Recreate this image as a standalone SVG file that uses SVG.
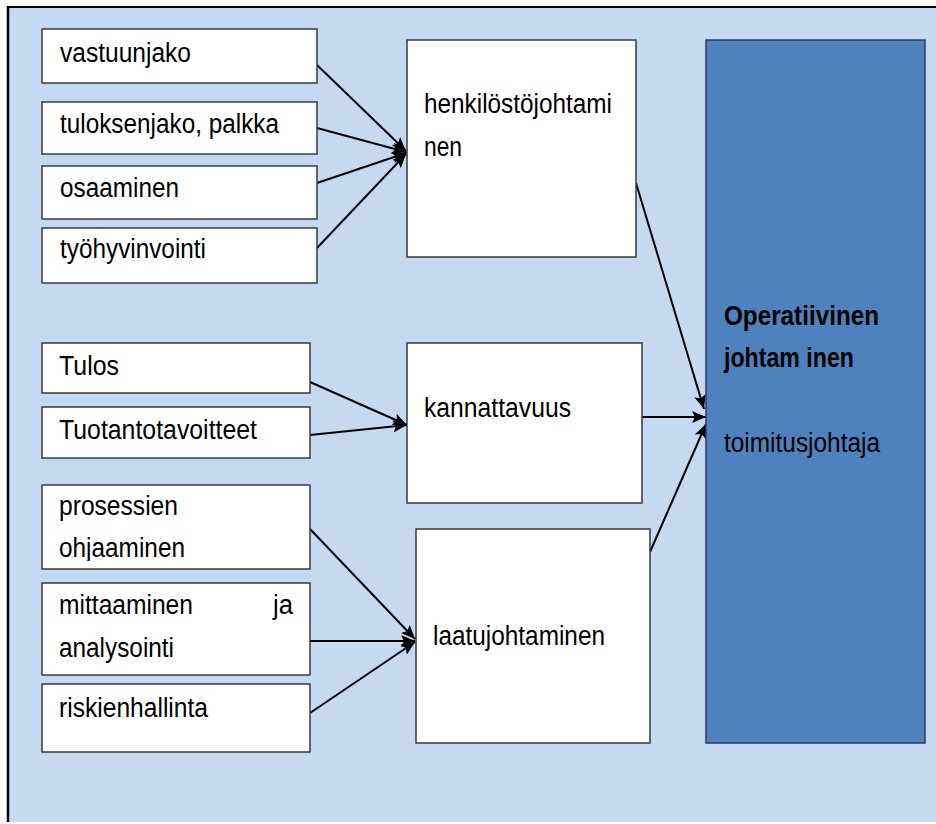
<svg xmlns="http://www.w3.org/2000/svg" width="936" height="824" viewBox="0 0 936 824">
<style>
.box{fill:#ffffff;stroke:#3a3a3a;stroke-width:1.5}
.main{fill:#4f81bd;stroke:#24406a;stroke-width:1.5}
.t{font-family:"Liberation Sans",Arial,sans-serif;font-size:27px;fill:#000}
.b{font-weight:bold}
.c{stroke:#000;stroke-width:2;fill:none;marker-end:url(#ah)}
</style>
<defs>
<marker id="ah" viewBox="0 0 14 12" refX="14" refY="6" markerWidth="14" markerHeight="12" markerUnits="userSpaceOnUse" orient="auto">
<path d="M0,0 L14,6 L0,12 L3,6 z" fill="#000"/>
</marker>
<clipPath id="clipOh"><rect x="42" y="485" width="268" height="76"/></clipPath>
</defs>
<rect x="0" y="0" width="936" height="824" fill="#ffffff"/>
<rect x="8" y="7" width="928" height="815" fill="#c6d9f0"/>
<line x1="8" y1="7" x2="936" y2="7" stroke="#000" stroke-width="2"/>
<line x1="8" y1="6" x2="8" y2="822" stroke="#000" stroke-width="2.5"/>

<g id="connectors">
<line class="c" x1="317" y1="65" x2="406" y2="151"/>
<line class="c" x1="317" y1="128" x2="406" y2="152"/>
<line class="c" x1="317" y1="183" x2="406" y2="153"/>
<line class="c" x1="317" y1="248" x2="406" y2="154"/>
<line class="c" x1="310" y1="382" x2="407" y2="425"/>
<line class="c" x1="310" y1="435" x2="407" y2="425"/>
<line class="c" x1="310" y1="529" x2="415" y2="639"/>
<line class="c" x1="310" y1="641" x2="415" y2="641"/>
<line class="c" x1="310" y1="713" x2="415" y2="642"/>
<line class="c" x1="636" y1="183" x2="704" y2="409"/>
<line class="c" x1="642" y1="417" x2="706" y2="417"/>
<line class="c" x1="650" y1="552" x2="706" y2="424"/>
</g>

<g id="vastuunjako"><rect class="box" x="42" y="29" width="275" height="54"/><text class="t" x="60" y="62" textLength="131" lengthAdjust="spacingAndGlyphs">vastuunjako</text></g>
<g id="tuloksenjako"><rect class="box" x="42" y="102" width="275" height="52"/><text class="t" x="60" y="133" textLength="219" lengthAdjust="spacingAndGlyphs">tuloksenjako, palkka</text></g>
<g id="osaaminen"><rect class="box" x="42" y="166" width="275" height="53"/><text class="t" x="60" y="197" textLength="119" lengthAdjust="spacingAndGlyphs">osaaminen</text></g>
<g id="tyohyvinvointi"><rect class="box" x="42" y="228" width="275" height="55"/><text class="t" x="60" y="258" textLength="146" lengthAdjust="spacingAndGlyphs">työhyvinvointi</text></g>

<g id="tulos"><rect class="box" x="42" y="343" width="268" height="50"/><text class="t" x="59" y="375" textLength="60" lengthAdjust="spacingAndGlyphs">Tulos</text></g>
<g id="tuotantotavoitteet"><rect class="box" x="42" y="407" width="268" height="51"/><text class="t" x="59" y="439" textLength="198" lengthAdjust="spacingAndGlyphs">Tuotantotavoitteet</text></g>
<g id="prosessien"><rect class="box" x="42" y="485" width="268" height="84"/><text class="t" x="59" y="515" textLength="119" lengthAdjust="spacingAndGlyphs">prosessien</text><text class="t" x="59" y="557" textLength="126" lengthAdjust="spacingAndGlyphs" clip-path="url(#clipOh)">ohjaaminen</text></g>
<g id="mittaaminen"><rect class="box" x="42" y="583" width="268" height="92"/><text class="t" x="59" y="614" textLength="134" lengthAdjust="spacingAndGlyphs">mittaaminen</text><text class="t" x="273" y="614" textLength="20" lengthAdjust="spacingAndGlyphs">ja</text><text class="t" x="59" y="657" textLength="115" lengthAdjust="spacingAndGlyphs">analysointi</text></g>
<g id="riskienhallinta"><rect class="box" x="42" y="684" width="268" height="68"/><text class="t" x="59" y="717" textLength="149" lengthAdjust="spacingAndGlyphs">riskienhallinta</text></g>

<g id="henkilostojohtaminen"><rect class="box" x="407" y="40" width="229" height="217"/><text class="t" x="424" y="113" textLength="188" lengthAdjust="spacingAndGlyphs">henkilöstöjohtami</text><text class="t" x="424" y="156" textLength="38" lengthAdjust="spacingAndGlyphs">nen</text></g>
<g id="kannattavuus"><rect class="box" x="407" y="343" width="235" height="160"/><text class="t" x="424" y="417" textLength="147" lengthAdjust="spacingAndGlyphs">kannattavuus</text></g>
<g id="laatujohtaminen"><rect class="box" x="416" y="529" width="234" height="214"/><text class="t" x="433" y="645" textLength="172" lengthAdjust="spacingAndGlyphs">laatujohtaminen</text></g>

<g id="operatiivinen"><rect class="main" x="706" y="40" width="219" height="703"/><text class="t b" x="724" y="325" textLength="155" lengthAdjust="spacingAndGlyphs">Operatiivinen</text><text class="t b" x="724" y="367" textLength="130" lengthAdjust="spacingAndGlyphs">johtam inen</text><text class="t" x="724" y="452" textLength="156" lengthAdjust="spacingAndGlyphs">toimitusjohtaja</text></g>
</svg>
